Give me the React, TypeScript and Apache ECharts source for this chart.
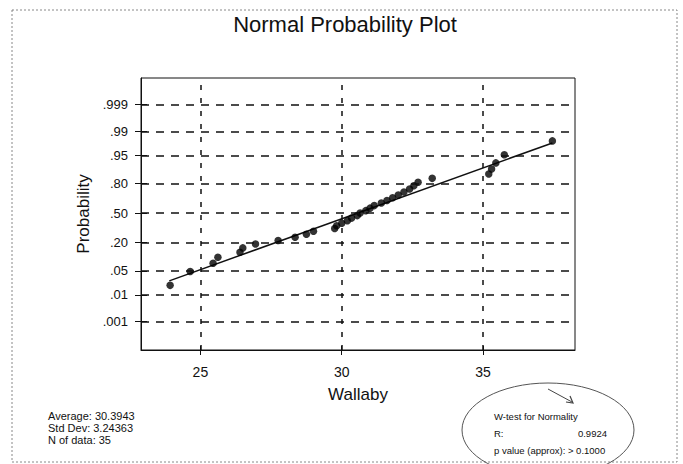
import React, { useEffect, useRef } from "react";
import * as echarts from "echarts";

const wallaby = [
  23.93, 24.64, 25.45, 25.62, 26.4, 26.5, 26.95, 27.75, 28.35, 28.75, 29.0, 29.75,
  29.82, 30.0, 30.2, 30.35, 30.55, 30.65, 30.85, 31.0, 31.15, 31.4, 31.6, 31.8,
  32.0, 32.2, 32.4, 32.55, 32.7, 33.2, 35.2, 35.3, 35.45, 35.75, 37.45,
];
const probTicks = [0.001, 0.01, 0.05, 0.2, 0.5, 0.8, 0.95, 0.99, 0.999];
const probLabels = [".001", ".01", ".05", ".20", ".50", ".80", ".95", ".99", ".999"];
const xTicks = [25, 30, 35];
const fitLineX = [23.9, 37.45];
const fitLineZ = [-1.93, 2.0];
const statsLines = ["Average: 30.3943", "Std Dev: 3.24363", "N of data: 35"];
const wTestTitle = "W-test for Normality";
const wTestR = "0.9924";
const wTestP = "p value (approx): > 0.1000";

// inverse standard normal CDF (Acklam)
function invNorm(p: number): number {
  const a = [-3.969683028665376e1, 2.209460984245205e2, -2.759285104469687e2, 1.38357751867269e2, -3.066479806614716e1, 2.506628277459239];
  const b = [-5.447609879822406e1, 1.615858368580409e2, -1.556989798598866e2, 6.680131188771972e1, -1.328068155288572e1];
  const c = [-7.784894002430293e-3, -3.223964580411365e-1, -2.400758277161838, -2.549732539343734, 4.374664141464968, 2.938163982698783];
  const d = [7.784695709041462e-3, 3.224671290700398e-1, 2.445134137142996, 3.754408661907416];
  const pl = 0.02425;
  if (p < pl) {
    const q = Math.sqrt(-2 * Math.log(p));
    return (((((c[0] * q + c[1]) * q + c[2]) * q + c[3]) * q + c[4]) * q + c[5]) / ((((d[0] * q + d[1]) * q + d[2]) * q + d[3]) * q + 1);
  }
  if (p > 1 - pl) {
    const q = Math.sqrt(-2 * Math.log(1 - p));
    return -(((((c[0] * q + c[1]) * q + c[2]) * q + c[3]) * q + c[4]) * q + c[5]) / ((((d[0] * q + d[1]) * q + d[2]) * q + d[3]) * q + 1);
  }
  const q = p - 0.5;
  const r = q * q;
  return ((((((a[0] * r + a[1]) * r + a[2]) * r + a[3]) * r + a[4]) * r + a[5]) * q) / (((((b[0] * r + b[1]) * r + b[2]) * r + b[3]) * r + b[4]) * r + 1);
}

export default function App() {
  const ref = useRef<HTMLDivElement>(null);
  useEffect(() => {
    if (!ref.current) return;
    const chart = echarts.init(ref.current, undefined, { renderer: "svg" });
    const n = wallaby.length;
    // median-rank plotting positions
    const points = wallaby.map((v, i) => [v, invNorm((i + 1 - 0.3) / (n + 0.4))]);
    const zTicks = probTicks.map(invNorm);
    const labelFor = (val: number) => {
      let best = 0;
      zTicks.forEach((z, i) => {
        if (Math.abs(z - val) < Math.abs(zTicks[best] - val)) best = i;
      });
      return probLabels[best];
    };
    const font = "'Liberation Sans', Arial, sans-serif";
    const ink = "#111";
    const yBase = {
      type: "value",
      min: -3.9,
      max: 3.85,
      splitLine: { show: false },
    };
    const xBase = {
      type: "value",
      min: 22.9,
      max: 38.25,
      splitLine: { show: false },
    };
    chart.setOption({
      animation: false,
      backgroundColor: "#fff",
      grid: { left: 141, top: 78, right: 108, bottom: 114, show: true, borderColor: ink, borderWidth: 1 },
      xAxis: [
        {
          ...xBase,
          name: "Wallaby",
          nameLocation: "middle",
          nameGap: 36,
          nameTextStyle: { color: ink, fontSize: 17, fontFamily: font },
          axisLine: { onZero: false, lineStyle: { color: ink, width: 1 } },
          axisTick: { show: true, length: 5, customValues: xTicks, lineStyle: { color: ink } },
          axisLabel: { customValues: xTicks, color: ink, fontSize: 14, fontFamily: font, margin: 15 },
        },
        {
          ...xBase,
          position: "bottom",
          axisLine: { show: false, onZero: false },
          axisTick: { show: true, inside: true, length: 4, customValues: xTicks, lineStyle: { color: ink } },
          axisLabel: { show: false },
        },
      ],
      yAxis: [
        {
          ...yBase,
          name: "Probability",
          nameLocation: "middle",
          nameGap: 48,
          nameTextStyle: { color: ink, fontSize: 17, fontFamily: font },
          axisLine: { show: true, onZero: false, lineStyle: { color: ink, width: 1 } },
          axisTick: { show: true, length: 6, customValues: zTicks, lineStyle: { color: ink } },
          axisLabel: { customValues: zTicks, formatter: (v: number) => labelFor(v), color: ink, fontSize: 13, fontFamily: font, margin: 13 },
        },
        {
          ...yBase,
          position: "left",
          axisLine: { show: false, onZero: false },
          axisTick: { show: true, inside: true, length: 6, customValues: zTicks, lineStyle: { color: ink } },
          axisLabel: { show: false },
        },
      ],
      series: [
        {
          type: "scatter",
          data: points,
          symbol: "circle",
          symbolSize: 7.5,
          itemStyle: { color: "#000" },
          z: 4,
          markLine: {
            silent: true,
            symbol: "none",
            label: { show: false },
            data: [
              ...zTicks.map((z) => ({ yAxis: z, lineStyle: { color: ink, type: [8, 7], width: 1.5 } })),
              ...xTicks.map((x) => ({ xAxis: x, lineStyle: { color: ink, type: [5, 8], width: 1.5 } })),
            ],
          },
        },
        {
          type: "line",
          data: fitLineX.map((x, i) => [x, fitLineZ[i]]),
          symbol: "none",
          lineStyle: { color: ink, width: 1.5 },
          z: 3,
        },
      ],
      graphic: [
        {
          type: "rect",
          shape: { x: 12, y: 10, width: 665, height: 452 },
          style: { fill: "none", stroke: "#888", lineWidth: 1, lineDash: [2, 2] },
          silent: true,
        },
        {
          type: "text",
          x: 345,
          y: 24,
          style: { text: "Normal Probability Plot", fill: ink, font: `22px ${font}`, align: "center", verticalAlign: "middle" },
        },
        ...statsLines.map((t, i) => ({
          type: "text",
          x: 48,
          y: 416 + i * 12,
          style: { text: t, fill: ink, font: `11px ${font}`, align: "left", verticalAlign: "middle" },
        })),
        {
          type: "text",
          x: 494,
          y: 416,
          style: { text: wTestTitle, fill: ink, font: `9.5px ${font}`, align: "left", verticalAlign: "middle" },
        },
        {
          type: "text",
          x: 494,
          y: 433,
          style: { text: "R:", fill: ink, font: `9.5px ${font}`, align: "left", verticalAlign: "middle" },
        },
        {
          type: "text",
          x: 607,
          y: 433,
          style: { text: wTestR, fill: ink, font: `9.5px ${font}`, align: "right", verticalAlign: "middle" },
        },
        {
          type: "text",
          x: 494,
          y: 450,
          style: { text: wTestP, fill: ink, font: `9.5px ${font}`, align: "left", verticalAlign: "middle" },
        },
        {
          type: "ellipse",
          shape: { cx: 548, cy: 430, rx: 86, ry: 47 },
          style: { fill: "none", stroke: "#555", lineWidth: 1 },
          silent: true,
        },
        {
          type: "polyline",
          shape: { points: [[548, 389], [572, 402]] },
          style: { fill: "none", stroke: "#444", lineWidth: 1 },
          silent: true,
        },
        {
          type: "polyline",
          shape: { points: [[566, 402], [573, 403], [570, 396]] },
          style: { fill: "none", stroke: "#444", lineWidth: 1.2 },
          silent: true,
        },
      ],
    });
    return () => chart.dispose();
  }, []);
  return <div ref={ref} style={{ position: "fixed", left: 0, top: 0, width: 683, height: 464 }} />;
}
